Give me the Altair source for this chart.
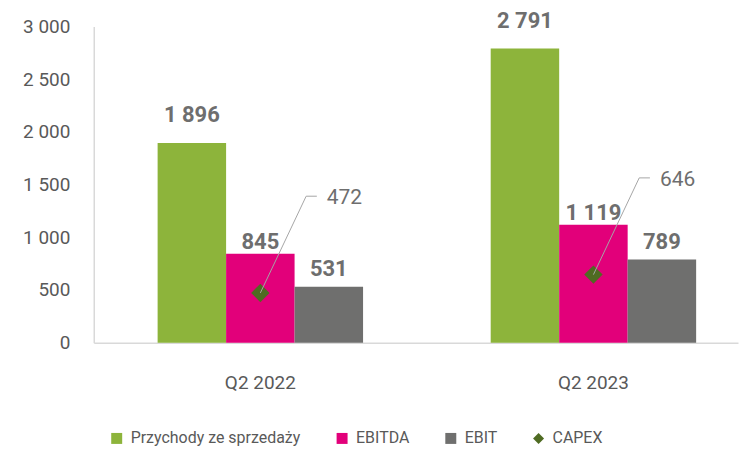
import altair as alt
import pandas as pd

# ---- data ----
periods = ["Q2 2022", "Q2 2023"]
series_names = ["Przychody ze sprzedaży", "EBITDA", "EBIT"]
revenue = [1896, 2791]
ebitda = [845, 1119]
ebit = [531, 789]
capex = [472, 646]
capex_name = "CAPEX"
y_ticks = [0, 500, 1000, 1500, 2000, 2500, 3000]

# ---- styles ----
colors = ["#8DB43B", "#E2007A", "#6F6F6E", "#4F6B22"]
label_gaps = {"Przychody ze sprzedaży": 21, "EBITDA": 5, "EBIT": 11}
FONT = "Roboto"
AXIS_GREY = "#595959"
VALUE_GREY = "#6E6E6E"
LINE_GREY = "#D9D9D9"
LEADER_GREY = "#A6A6A6"
LEADER_RISE = 918  # in data units (~97px)

legend_domain = series_names + [capex_name]

rows = []
for i, p in enumerate(periods):
    for s, vals in zip(series_names, [revenue, ebitda, ebit]):
        rows.append({"period": p, "series": s, "value": vals[i]})
bars_df = pd.DataFrame(rows)
capex_df = pd.DataFrame({"period": periods, "series": [capex_name] * len(periods), "value": capex})

fmt_expr = "replace(format(datum.value, ','), ',', ' ')"

x_scale = alt.Scale(domain=periods, paddingInner=0.3832, paddingOuter=0.1587, align=0.604)
y_scale = alt.Scale(domain=[0, 3000], nice=False, zero=True)
color_scale = alt.Scale(domain=legend_domain, range=colors)
shape_scale = alt.Scale(domain=legend_domain, range=["square", "square", "square", "diamond"])
off_scale = alt.Scale(domain=series_names, paddingInner=0, paddingOuter=0)

x_axis = alt.Axis(title=None, labelAngle=0, ticks=False, labelPadding=31,
                  labelFontSize=19, labelColor=AXIS_GREY, domainColor=LINE_GREY,
                  domainWidth=1.5)
y_axis = alt.Axis(title=None, values=y_ticks, ticks=False, grid=False, labelPadding=24,
                  labelFontSize=19, labelColor=AXIS_GREY, domainColor=LINE_GREY,
                  domainWidth=1.5, labelExpr=fmt_expr)

legend = alt.Legend(title=None, orient="none", legendX=15, legendY=405, direction="horizontal",
                    symbolType="square", symbolSize=121, labelFontSize=16, labelColor=AXIS_GREY,
                    labelFont=FONT, labelLimit=400, columnPadding=33, labelOffset=6,
                    symbolStrokeWidth=0)

bars = alt.Chart(bars_df).mark_bar().encode(
    x=alt.X("period:N", scale=x_scale, sort=periods, axis=x_axis),
    xOffset=alt.XOffset("series:N", scale=off_scale, sort=series_names),
    y=alt.Y("value:Q", scale=y_scale, axis=y_axis),
    color=alt.Color("series:N", scale=color_scale, legend=legend),
)

value_labels = []
for s in series_names:
    value_labels.append(
        alt.Chart(bars_df).transform_filter(alt.datum.series == s)
        .transform_calculate(label=fmt_expr)
        .mark_text(font=FONT, fontSize=22, fontWeight="bold", color=VALUE_GREY,
                   baseline="alphabetic", dy=-label_gaps[s])
        .encode(
            x=alt.X("period:N", scale=x_scale, sort=periods),
            xOffset=alt.XOffset("series:N", scale=off_scale, sort=series_names),
            y=alt.Y("value:Q", scale=y_scale),
            text="label:N",
        )
    )

diamonds = alt.Chart(capex_df).mark_point(filled=True, size=340, opacity=1).encode(
    x=alt.X("period:N", scale=x_scale, sort=periods, bandPosition=0.5),
    y=alt.Y("value:Q", scale=y_scale),
    color=alt.Color("series:N", scale=color_scale, legend=legend),
    shape=alt.Shape("series:N", scale=shape_scale, legend=legend),
)

leader_base = alt.Chart(capex_df).transform_calculate(top=f"datum.value + {LEADER_RISE}")

leader_slant = leader_base.mark_rule(color=LEADER_GREY, strokeWidth=1).encode(
    x=alt.X("period:N", scale=x_scale, sort=periods, bandPosition=0.5),
    x2=alt.X2("period", bandPosition=0.723),
    y=alt.Y("value:Q", scale=y_scale),
    y2="top:Q",
)
leader_flat = leader_base.mark_rule(color=LEADER_GREY, strokeWidth=1).encode(
    x=alt.X("period:N", scale=x_scale, sort=periods, bandPosition=0.723),
    x2=alt.X2("period", bandPosition=0.775),
    y=alt.Y("top:Q", scale=y_scale),
)
leader_text = leader_base.mark_text(font=FONT, fontSize=21, color=VALUE_GREY, align="left",
                                    baseline="middle", dx=10, dy=2).encode(
    x=alt.X("period:N", scale=x_scale, sort=periods, bandPosition=0.775),
    y=alt.Y("top:Q", scale=y_scale),
    text="value:Q",
)

chart = alt.layer(bars, *value_labels, diamonds, leader_slant, leader_flat, leader_text).properties(
    width=646, height=317,
    autosize=alt.AutoSizeParams(type="none"),
    padding={"left": 86, "top": 18, "right": 2, "bottom": 108},
).configure_view(stroke=None).configure_axis(labelFont=FONT).configure_text(font=FONT)

chart.save("out.html", embed_options={"renderer": "svg", "actions": False})
